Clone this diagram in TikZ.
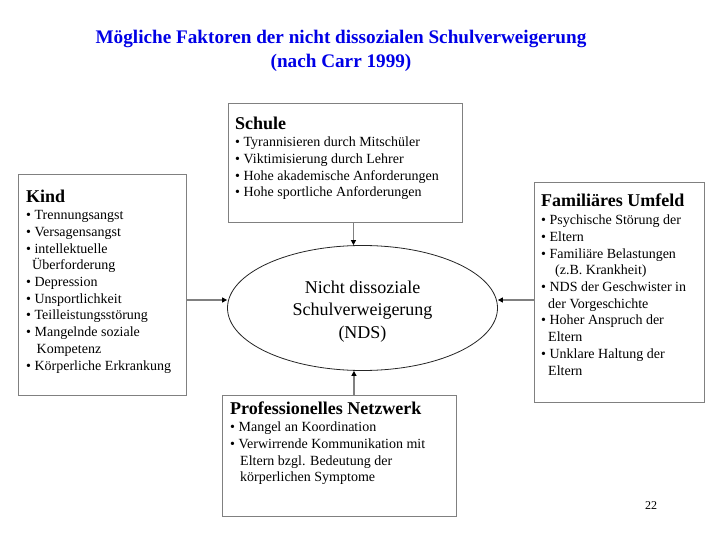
\documentclass[tikz,border=0pt]{standalone}
\usepackage{fontspec}
\setmainfont{Liberation Serif}
\usetikzlibrary{arrows.meta,shapes.geometric}
\definecolor{titleblue}{RGB}{0,0,230}
\definecolor{boxgray}{RGB}{128,128,128}
\begin{document}
\begin{tikzpicture}[x=1pt,y=-1pt,
  box/.style={draw=boxgray, line width=1.3pt, inner sep=0pt, anchor=north west},
  txt/.style={inner sep=0pt, anchor=base west, align=left,
    font=\fontsize{14}{16.67}\selectfont},
  arr/.style={draw=boxgray, line width=1.2pt,
    -{Triangle[length=5pt,width=5pt,color=black]}}]
\useasboundingbox (0,0) rectangle (720,540);
\newcommand{\hd}[1]{{\fontsize{18}{18}\selectfont\bfseries #1}}

% title (anchor base = baseline of last line)
\node[font=\fontsize{19.2}{24}\selectfont\bfseries, text=titleblue, align=center,
  inner sep=0pt, anchor=base] (title) at (341,68)
  {Mögliche Faktoren der nicht dissozialen Schulverweigerung\\(nach Carr 1999)};

% boxes
\node[box, minimum width=234pt, minimum height=119pt] (schule) at (228,103) {};
\node[box, minimum width=168pt, minimum height=221pt] (kind) at (18,174) {};
\node[box, minimum width=170pt, minimum height=220pt] (fam) at (534,182) {};
\node[box, minimum width=234pt, minimum height=121pt] (prof) at (222,395) {};

% texts (anchor base west = baseline of last line)
\node[txt] (schuleT) at (235,196.7) {\hd{Schule}\\[1pt]
  • Tyrannisieren durch Mitschüler\\
  • Viktimisierung durch Lehrer\\
  • Hohe akademische Anforderungen\\
  • Hohe sportliche Anforderungen};

\node[txt] (kindT) at (26,370) {\hd{Kind}\\[1pt]
  • Trennungsangst\\
  • Versagensangst\\
  • intellektuelle\\
  \hspace*{6pt}Überforderung\\
  • Depression\\
  • Unsportlichkeit\\
  • Teilleistungsstörung\\
  • Mangelnde soziale\\
  \hspace*{10.5pt}Kompetenz\\
  • Körperliche Erkrankung};

\node[txt] (famT) at (541,375) {\hd{Familiäres Umfeld}\\[1.5pt]
  • Psychische Störung der\\
  • Eltern\\
  • Familiäre Belastungen\\
  \hspace*{14pt}(z.B. Krankheit)\\
  • NDS der Geschwister in\\
  \hspace*{7pt}der Vorgeschichte\\
  • Hoher Anspruch der\\
  \hspace*{7pt}Eltern\\
  • Unklare Haltung der\\
  \hspace*{7pt}Eltern};

\node[txt] (profT) at (230,481.7) {\hd{Professionelles Netzwerk}\\[1pt]
  • Mangel an Koordination\\
  • Verwirrende Kommunikation mit\\
  \hspace*{10pt}Eltern bzgl. Bedeutung der\\
  \hspace*{10pt}körperlichen Symptome};

% ellipse
\node[ellipse, draw=black!85, line width=0.8pt, minimum width=270pt, minimum height=125pt,
  inner sep=0pt] (nds) at (362.5,308) {};
\node[inner sep=0pt, align=center, font=\fontsize{18}{22.5}\selectfont, anchor=base]
  (ndsT) at (362.5,338) {Nicht dissoziale\\Schulverweigerung\\(NDS)};

% arrows
\draw[arr] ([xshift=7.8pt]schule.south) -- ([xshift=7.8pt]schule.south |- nds.north);
\draw[arr] ([xshift=14.3pt]prof.north) -- ([xshift=14.3pt]prof.north |- nds.south);
\draw[arr] (kind.east |- 0,300) -- (nds.west |- 0,300);
\draw[arr] (fam.west |- 0,300) -- (nds.east |- 0,300);

% page number
\node[inner sep=0pt, anchor=base west, font=\fontsize{12}{12}\selectfont] (page) at (645,509) {22};
\end{tikzpicture}
\end{document}
